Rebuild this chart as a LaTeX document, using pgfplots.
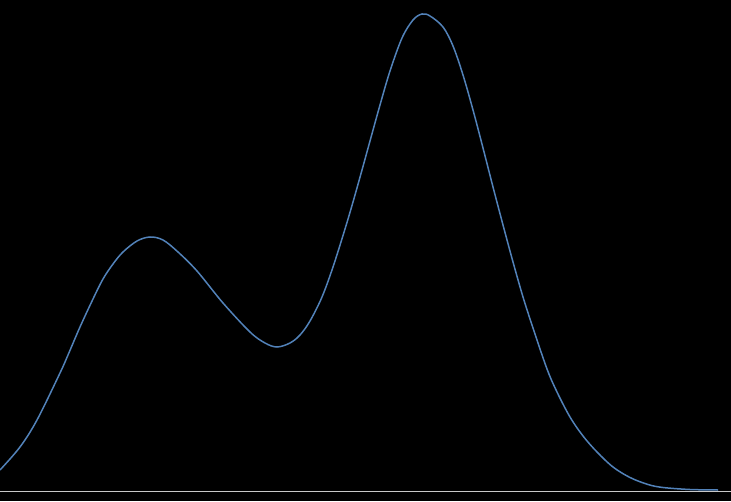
\documentclass[border=0pt]{standalone}
\usepackage{pgfplots}
\pgfplotsset{compat=1.18}
\definecolor{curve}{RGB}{82,130,185}
\definecolor{base}{RGB}{200,200,200}
\begin{document}
\begin{tikzpicture}
\fill[black] (0,0) rectangle (731pt,501pt);
\begin{axis}[
  at={(0,0)}, anchor=south west,
  scale only axis, width=731pt, height=501pt,
  xmin=0, xmax=731, ymin=-10, ymax=491,
  hide axis,
]
\addplot[base, line width=0.9pt] coordinates {(0,0) (731,0)};
\addplot[curve, line width=1.5pt, smooth, tension=0.55] coordinates {
(0,21) (20,44) (37,71) (60,118) (68,136) (80,164) (93,192) (103,212)
(113,227) (123,239) (137,250) (150,254) (163,251) (178,239) (197,220)
(223,188) (250,159) (265,148) (277,144) (290,148) (300,156) (310,170)
(322,194) (333,224) (345,262) (353,289) (362,321) (370,350) (380,386)
(390,420) (402,453) (413,471) (422,477) (430,475) (443,464) (453,445)
(463,416) (473,381) (483,343) (493,304) (503,266) (513,229) (523,194)
(533,163) (547,122) (557,99) (570,74) (583,55) (597,39) (613,24)
(630,13.5) (648,6.5) (663,3.5) (690,1.5) (718,1)
};
\end{axis}
\end{tikzpicture}
\end{document}
